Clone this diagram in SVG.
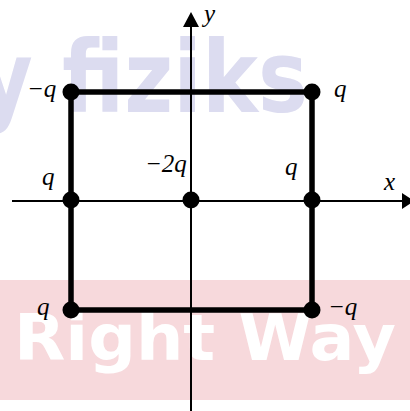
<svg xmlns="http://www.w3.org/2000/svg" width="410" height="411" viewBox="0 0 410 411">
<style>
.lbl{font-family:"Liberation Serif","Times New Roman",serif;font-style:italic;font-size:25px;fill:#000}
.axis{stroke:#000;stroke-width:2;fill:none}
.edge{stroke:#000;stroke-width:5.5;fill:none}
.dot{fill:#000}
.wm1{font-family:"DejaVu Sans",sans-serif;font-weight:bold;font-size:100px;fill:#dcdcf0}
.wm2{font-family:"DejaVu Sans",sans-serif;font-weight:bold;font-size:64px;fill:#fff}
</style>
<rect width="410" height="411" fill="#fff"/>
<g id="watermark">
<text class="wm1" x="-22" y="112" textLength="330" lengthAdjust="spacingAndGlyphs">y fiziks</text>
<rect x="0" y="280" width="410" height="120" fill="#f7d9dc"/>
<text class="wm2" x="14" y="360" textLength="382" lengthAdjust="spacingAndGlyphs">Right Way</text>
</g>
<g id="axes">
<line class="axis" x1="191" y1="24" x2="191" y2="411"/>
<polygon points="191,12 183,27 199,27" fill="#000"/>
<line class="axis" x1="12" y1="201" x2="404" y2="201"/>
<polygon points="414,201 402,193 402,209" fill="#000"/>
<text class="lbl" x="204" y="22">y</text>
<text class="lbl" x="384" y="190">x</text>
</g>
<g id="connectors">
<rect class="edge" x="71" y="92" width="241" height="218"/>
</g>
<g id="n1"><circle class="dot" cx="71" cy="92" r="8.5"/><text class="lbl" x="27" y="97">−q</text></g>
<g id="n2"><circle class="dot" cx="312" cy="92" r="8.5"/><text class="lbl" x="334" y="97">q</text></g>
<g id="n3"><circle class="dot" cx="71" cy="200" r="8.5"/><text class="lbl" x="42" y="185">q</text></g>
<g id="n4"><circle class="dot" cx="191" cy="200" r="8.5"/><text class="lbl" x="145" y="172">−2q</text></g>
<g id="n5"><circle class="dot" cx="312" cy="200" r="8.5"/><text class="lbl" x="285" y="175">q</text></g>
<g id="n6"><circle class="dot" cx="71" cy="310" r="8.5"/><text class="lbl" x="37" y="315">q</text></g>
<g id="n7"><circle class="dot" cx="312" cy="310" r="8.5"/><text class="lbl" x="328" y="315">−q</text></g>
</svg>
